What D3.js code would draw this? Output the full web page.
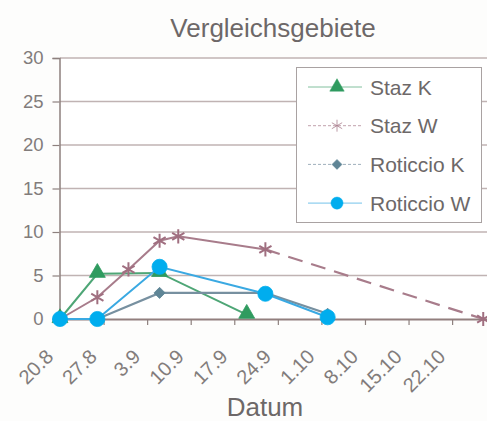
<!DOCTYPE html>
<html>
<head>
<meta charset="utf-8">
<script src="https://cdn.jsdelivr.net/npm/d3@7"></script>
<style>
  html, body { margin: 0; padding: 0; background: #fdfdfc; }
  svg { display: block; }
  text { font-family: "Liberation Sans", Arial, Helvetica, sans-serif; }
</style>
</head>
<body>
<svg id="chart" width="487" height="421"></svg>
<script>
// ---- data ----
const title = "Vergleichsgebiete";
const xTitle = "Datum";
const seriesNames = ["Staz K", "Staz W", "Roticcio K", "Roticcio W"];

const stazKDates = ["2001-08-20", "2001-08-26", "2001-09-05", "2001-09-19"];
const stazKValues = [0, 5.2, 5.3, 0.5];

const stazWDates = ["2001-08-20", "2001-08-26", "2001-08-31", "2001-09-05", "2001-09-08", "2001-09-22", "2001-10-27"];
const stazWValues = [0, 2.5, 5.7, 9.0, 9.5, 8.0, 0];
const stazWDashedFrom = 5; // segment after this point index is dashed

const roticcioKDates = ["2001-08-20", "2001-08-26", "2001-09-05", "2001-09-22", "2001-10-02"];
const roticcioKValues = [0, 0, 3.0, 3.0, 0.6];

const roticcioWDates = ["2001-08-20", "2001-08-26", "2001-09-05", "2001-09-22", "2001-10-02"];
const roticcioWValues = [0, 0, 6.0, 2.9, 0.2];

const xTickDates = ["2001-08-20", "2001-08-27", "2001-09-03", "2001-09-10", "2001-09-17",
                    "2001-09-24", "2001-10-01", "2001-10-08", "2001-10-15", "2001-10-22"];
const xDomain = ["2001-08-20", "2001-10-29"];
const yTicks = [0, 5, 10, 15, 20, 25, 30];

// ---- setup ----
const parse = d3.timeParse("%Y-%m-%d");
const fmt = d3.timeFormat("%-d.%-m");
const svg = d3.select("#chart");

const x0 = 60, yTop = 58, yBottom = 319;
const pxPerDay = 6.224;
const xd = xDomain.map(parse);
const nDays = d3.timeDay.count(xd[0], xd[1]);
const x = d3.scaleTime().domain(xd).range([x0, x0 + nDays * pxPerDay]);
const y = d3.scaleLinear().domain([0, 30]).range([yBottom, yTop]);

const colors = {
  stazK: "#2f9b5f", stazKLine: "#4ea676",
  stazW: "#a06f80", stazWLine: "#a87c8b",
  rotK: "#5f8596", rotKLine: "#7790a0",
  rotW: "#00adee", rotWLine: "#3aa9e2"
};
const textGray = "#827c7b";

// plot background
svg.append("rect").attr("x", x(xd[0])).attr("y", yTop)
  .attr("width", x(xd[1]) - x(xd[0])).attr("height", yBottom - yTop)
  .attr("fill", "#ffffff");

// gridlines
svg.append("g").selectAll("line").data(yTicks.filter(d => d > 0)).join("line")
  .attr("x1", x(xd[0])).attr("x2", x(xd[1]))
  .attr("y1", d => y(d)).attr("y2", d => y(d))
  .attr("stroke", "#c0b3b3").attr("stroke-width", 1.3);

// y axis
const yAxis = d3.axisLeft(y).tickValues(yTicks).tickSize(7).tickPadding(9);
const gy = svg.append("g").attr("transform", `translate(${x(xd[0]) - 0.5},0)`).call(yAxis);
gy.select(".domain").attr("stroke", "#8d807e").attr("stroke-width", 1.5);
gy.selectAll(".tick line").attr("stroke", "#8d807e").attr("stroke-width", 1.2);
gy.selectAll(".tick text").attr("font-size", 18.5).attr("fill", textGray)
  .attr("font-family", "Liberation Sans, Arial, sans-serif");

// x axis
const xTicks = xTickDates.map(parse);
const xAxis = d3.axisBottom(x).tickValues(xTicks).tickSize(6).tickFormat(fmt).tickSizeOuter(0);
const gx = svg.append("g").attr("transform", `translate(0,${yBottom})`).call(xAxis);
gx.select(".domain").attr("stroke", "#927f7e").attr("stroke-width", 1.8);
gx.selectAll(".tick line").attr("stroke", "#8d807e").attr("stroke-width", 1.2);
gx.selectAll(".tick text")
  .attr("font-size", 20).attr("fill", textGray)
  .attr("font-family", "Liberation Sans, Arial, sans-serif")
  .attr("text-anchor", "end")
  .attr("dy", null).attr("y", null)
  .attr("transform", "translate(-6,39) rotate(-45)");

// title
svg.append("text").attr("x", 273).attr("y", 37).attr("text-anchor", "middle")
  .attr("font-size", 26).attr("fill", "#6d6868").text(title);
svg.append("text").attr("x", 265).attr("y", 416).attr("text-anchor", "middle")
  .attr("font-size", 26).attr("fill", "#6d6868").text(xTitle);

// ---- series ----
const line = d3.line().x(d => x(d.date)).y(d => y(d.value));
function pts(dates, vals) { return dates.map((d, i) => ({ date: parse(d), value: vals[i] })); }

const sym = {
  triangle: d3.symbol().type(d3.symbolTriangle).size(110),
  diamond: d3.symbol().type(d3.symbolSquare).size(62),
  circle: d3.symbol().type(d3.symbolCircle).size(180),
  asterisk: d3.symbol().type(d3.symbolAsterisk).size(140)
};

function drawSeries(data, lineColor, markerColor, shape, opts = {}) {
  const g = svg.append("g");
  if (opts.dashFrom != null) {
    g.append("path").datum(data.slice(0, opts.dashFrom + 1)).attr("d", line)
      .attr("fill", "none").attr("stroke", lineColor).attr("stroke-width", 2);
    g.append("path").datum(data.slice(opts.dashFrom)).attr("d", line)
      .attr("fill", "none").attr("stroke", lineColor).attr("stroke-width", 2.2)
      .attr("stroke-dasharray", "15,9");
  } else {
    g.append("path").datum(data).attr("d", line)
      .attr("fill", "none").attr("stroke", lineColor).attr("stroke-width", opts.lw || 2);
  }
  g.selectAll("path.m").data(data).join("path").attr("class", "m")
    .attr("transform", d => `translate(${x(d.date)},${y(d.value) + (shape === "triangle" ? -1 : 0)})` +
      (shape === "diamond" ? " rotate(45)" : ""))
    .attr("d", sym[shape])
    .attr("fill", shape === "asterisk" ? "none" : markerColor)
    .attr("stroke", markerColor)
    .attr("stroke-width", shape === "asterisk" ? 2 : 0.8);
}

drawSeries(pts(stazKDates, stazKValues), colors.stazKLine, colors.stazK, "triangle");
drawSeries(pts(stazWDates, stazWValues), colors.stazWLine, colors.stazW, "asterisk", { dashFrom: stazWDashedFrom });
drawSeries(pts(roticcioKDates, roticcioKValues), colors.rotKLine, colors.rotK, "diamond", { lw: 2.2 });
drawSeries(pts(roticcioWDates, roticcioWValues), colors.rotWLine, colors.rotW, "circle");

// ---- legend ----
const lg = svg.append("g");
lg.append("rect").attr("x", 296.5).attr("y", 67.5).attr("width", 185).attr("height", 155)
  .attr("fill", "#ffffff").attr("stroke", "#a9a2a2").attr("stroke-width", 1);
const legendItems = [
  { name: seriesNames[0], lc: colors.stazKLine, mc: colors.stazK, shape: "triangle", dash: null },
  { name: seriesNames[1], lc: colors.stazWLine, mc: colors.stazW, shape: "asterisk", dash: "3,2" },
  { name: seriesNames[2], lc: colors.rotKLine, mc: colors.rotK, shape: "diamond", dash: "3,2" },
  { name: seriesNames[3], lc: colors.rotWLine, mc: colors.rotW, shape: "circle", dash: null }
];
const legendSym = {
  triangle: d3.symbol().type(d3.symbolTriangle).size(90),
  diamond: d3.symbol().type(d3.symbolSquare).size(50),
  circle: d3.symbol().type(d3.symbolCircle).size(115),
  asterisk: d3.symbol().type(d3.symbolAsterisk).size(100)
};
legendItems.forEach((it, i) => {
  const cy = 87 + i * 38.7;
  lg.append("line").attr("x1", 308).attr("x2", 362).attr("y1", cy).attr("y2", cy)
    .attr("stroke", it.lc).attr("stroke-width", 1).attr("opacity", 0.7)
    .attr("stroke-dasharray", it.dash);
  lg.append("path")
    .attr("transform", `translate(337,${cy})` + (it.shape === "diamond" ? " rotate(45)" : ""))
    .attr("d", legendSym[it.shape])
    .attr("fill", it.shape === "asterisk" ? "none" : it.mc)
    .attr("stroke", it.mc).attr("stroke-width", it.shape === "asterisk" ? 1 : 0.5)
    .attr("opacity", it.shape === "asterisk" ? 0.7 : 1);
  lg.append("text").attr("x", 370).attr("y", cy + 7.5).attr("font-size", 21)
    .attr("fill", "#6d6868").text(it.name);
});
</script>
</body>
</html>
